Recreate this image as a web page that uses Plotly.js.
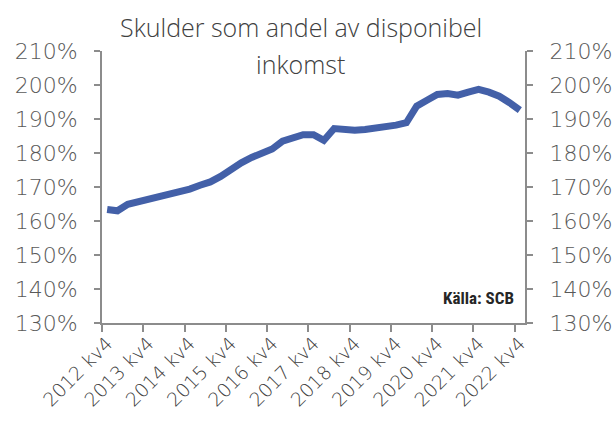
<!DOCTYPE html>
<html><head><meta charset="utf-8">
<script src="https://cdn.plot.ly/plotly-3.0.1.min.js"></script>
<style>html,body{margin:0;padding:0;background:#fff}#c{width:616px;height:426px}</style>
</head><body><div id="c"></div>
<script>
const quarters = [
 "2012 kv4",
 "2013 kv1","2013 kv2","2013 kv3","2013 kv4",
 "2014 kv1","2014 kv2","2014 kv3","2014 kv4",
 "2015 kv1","2015 kv2","2015 kv3","2015 kv4",
 "2016 kv1","2016 kv2","2016 kv3","2016 kv4",
 "2017 kv1","2017 kv2","2017 kv3","2017 kv4",
 "2018 kv1","2018 kv2","2018 kv3","2018 kv4",
 "2019 kv1","2019 kv2","2019 kv3","2019 kv4",
 "2020 kv1","2020 kv2","2020 kv3","2020 kv4",
 "2021 kv1","2021 kv2","2021 kv3","2021 kv4",
 "2022 kv1","2022 kv2","2022 kv3","2022 kv4"
];
const debtRatio = [
 163.4,
 163.0,164.9,165.6,166.1,
 167.1,167.5,168.3,169.4,
 170.5,171.5,173.1,175.3,
 177.1,178.7,179.9,181.2,
 183.5,184.4,185.4,185.4,
 183.7,187.2,186.9,186.7,
 186.9,187.2,187.6,188.2,
 188.9,193.8,195.5,197.2,
 197.5,197.0,197.9,198.7,
 197.9,196.7,194.8,192.6
];
const yTicks = [130,140,150,160,170,180,190,200,210];
const yTickText = yTicks.map(v => v + "%");
const titleLines = ["Skulder som andel av disponibel", "inkomst"];
const sourceText = "Källa: SCB";

const axisGrey = "#8c8c8c";
const labelFont = {family: "DejaVu Sans, sans-serif", size: 22, color: "#595959", weight: 200};

const trace = {
  type: "scatter", mode: "lines",
  x: quarters, y: debtRatio,
  line: {color: "#4360a8", width: 7, shape: "linear"},
  hoverinfo: "skip", showlegend: false
};

const yCommon = {
  range: [130, 210], autorange: false,
  tickmode: "array", tickvals: yTicks, ticktext: yTickText,
  showgrid: false, zeroline: false,
  showline: true, linecolor: axisGrey, linewidth: 2,
  ticks: "outside", ticklen: 6, tickwidth: 2, tickcolor: axisGrey,
  tickfont: labelFont, ticklabelstandoff: 12, fixedrange: true
};

const titleFont = {family: "Open Sans, sans-serif", size: 25, color: "#404040", weight: 300};

const layout = {
  width: 616, height: 426,
  margin: {l: 102, r: 91, t: 51, b: 103, pad: 0},
  paper_bgcolor: "#fff", plot_bgcolor: "#fff",
  showlegend: false,
  xaxis: {
    type: "category",
    tickmode: "linear", tick0: 0, dtick: 4,
    tickson: "boundaries",
    range: [-0.5, quarters.length - 0.5], autorange: false,
    showgrid: false, zeroline: false,
    showline: true, linecolor: axisGrey, linewidth: 2,
    ticks: "outside", ticklen: 7, tickwidth: 2, tickcolor: axisGrey,
    tickangle: -45,
    tickfont: {family: "DejaVu Sans, sans-serif", size: 19, color: "#404040", weight: 200},
    fixedrange: true
  },
  yaxis: Object.assign({}, yCommon, {side: "left"}),
  yaxis2: Object.assign({}, yCommon, {side: "right", overlaying: "y", anchor: "x"}),
  annotations: [
    {text: titleLines[0], xref: "paper", yref: "paper", x: 0.47, y: 1.09,
     xanchor: "center", yanchor: "middle", showarrow: false, font: titleFont},
    {text: titleLines[1], xref: "paper", yref: "paper", x: 0.47, y: 0.952,
     xanchor: "center", yanchor: "middle", showarrow: false, font: titleFont},
    {text: "<b>" + sourceText + "</b>", xref: "paper", yref: "paper", x: 0.978, y: 0.093,
     xanchor: "right", yanchor: "middle", showarrow: false,
     font: {family: "Liberation Sans Narrow, Roboto Condensed, DejaVu Sans Condensed, sans-serif", size: 17, color: "#262626"}}
  ]
};

const trace2 = {type: "scatter", mode: "lines", x: [quarters[0]], y: [debtRatio[0]], yaxis: "y2",
  line: {width: 0}, hoverinfo: "skip", showlegend: false, opacity: 0};

Plotly.newPlot("c", [trace, trace2], layout, {staticPlot: true, displayModeBar: false});
</script></body></html>
